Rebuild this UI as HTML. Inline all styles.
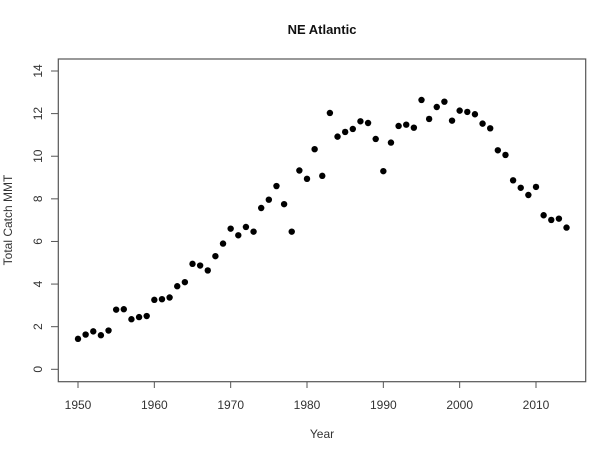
<!DOCTYPE html>
<html><head><meta charset="utf-8"><style>
html,body{margin:0;padding:0;background:#fff;width:607px;height:450px;overflow:hidden}
svg{display:block;font-family:"Liberation Sans",Arial,sans-serif}
</style></head><body>
<svg id="chart" width="607" height="450" viewBox="0 0 607 450">
<text x="322" y="34" text-anchor="middle" font-size="13" font-weight="bold" fill="#111">NE Atlantic</text>
<rect x="58.3" y="59" width="527.4" height="322.7" fill="none" stroke="#555" stroke-width="1.2"/>
<g id="xaxis"></g>
<g id="yaxis"></g>
<g id="points"></g>
<text x="322" y="438" text-anchor="middle" font-size="12" fill="#333">Year</text>
<text transform="translate(12,220) rotate(-90)" text-anchor="middle" font-size="12" fill="#333">Total Catch MMT</text>
</svg>
<script>
const years = [1950,1951,1952,1953,1954,1955,1956,1957,1958,1959,1960,1961,1962,1963,1964,1965,1966,1967,1968,1969,1970,1971,1972,1973,1974,1975,1976,1977,1978,1979,1980,1981,1982,1983,1984,1985,1986,1987,1988,1989,1990,1991,1992,1993,1994,1995,1996,1997,1998,1999,2000,2001,2002,2003,2004,2005,2006,2007,2008,2009,2010,2011,2012,2013,2014];
const catchValues = [1.43,1.63,1.78,1.6,1.82,2.8,2.82,2.35,2.45,2.5,3.26,3.29,3.37,3.9,4.09,4.95,4.87,4.64,5.31,5.9,6.6,6.29,6.68,6.46,7.57,7.96,8.6,7.75,6.46,9.33,8.94,10.33,9.08,12.03,10.92,11.14,11.28,11.64,11.56,10.81,9.3,10.64,11.42,11.48,11.34,12.64,11.75,12.31,12.56,11.67,12.14,12.08,11.97,11.53,11.31,10.28,10.06,8.87,8.52,8.18,8.56,7.23,7.01,7.07,6.65];
const xTicks = [1950,1960,1970,1980,1990,2000,2010];
const yTicks = [0,2,4,6,8,10,12,14];

const NS = "http://www.w3.org/2000/svg";
function xs(v){ return 78 + (v-1950)*(536-78)/60; }
function ys(v){ return 369.3 - v*(369.3-71)/14; }
function mk(tag, attrs, parent){ const e=document.createElementNS(NS,tag); for(const k in attrs) e.setAttribute(k,attrs[k]); parent.appendChild(e); return e; }

const xg=document.getElementById('xaxis');
xTicks.forEach(t=>{
  const l=mk('line',{x1:xs(t),x2:xs(t),y1:381.7,y2:388,stroke:'#555','stroke-width':1},xg);
  
  
  const tx=mk('text',{x:xs(t),y:409,'text-anchor':'middle','font-size':12,fill:'#333'},xg);
  tx.textContent=t;
  
  
});
const yg=document.getElementById('yaxis');
yTicks.forEach(t=>{
  const l=mk('line',{x1:51,x2:58.3,y1:ys(t),y2:ys(t),stroke:'#555','stroke-width':1},yg);
  
  
  const tx=mk('text',{transform:`translate(42,${ys(t)}) rotate(-90)`,'text-anchor':'middle','font-size':12,fill:'#333'},yg);
  tx.textContent=t;
  
  
});
const pg=document.getElementById('points');
years.forEach((yr,i)=>{
  const c=mk('circle',{cx:xs(yr),cy:ys(catchValues[i]),r:3.2,fill:'#000'},pg);
  
  
});
</script>
</body></html>
